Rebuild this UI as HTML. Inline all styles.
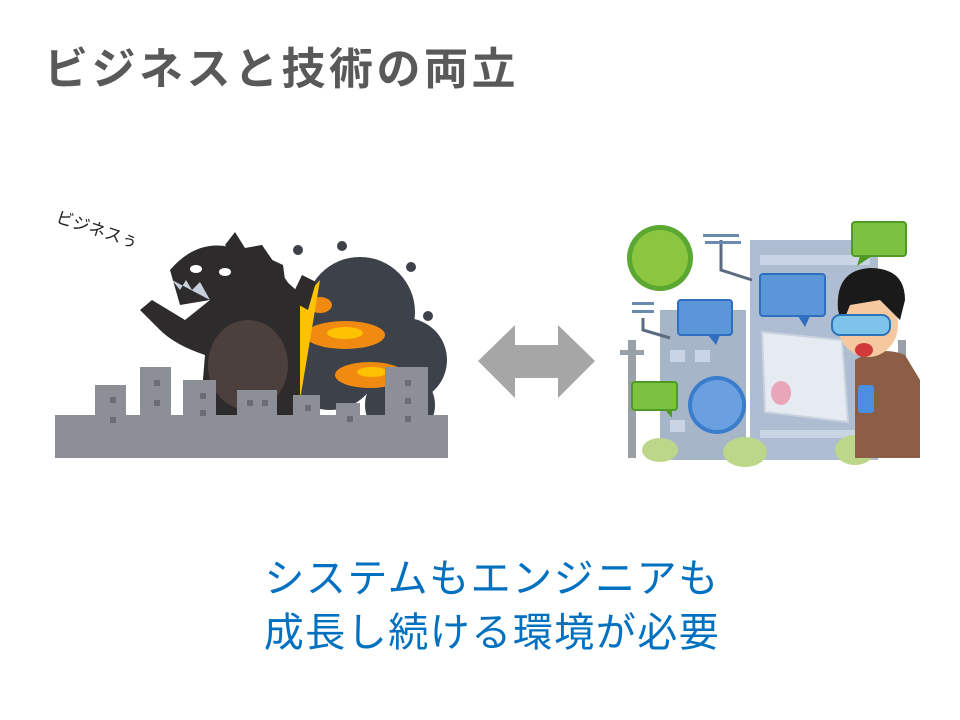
<!DOCTYPE html>
<html><head><meta charset="utf-8"><style>
body{margin:0;width:960px;height:720px;background:#fff;overflow:hidden;position:relative;font-family:"Liberation Sans","Noto Sans CJK JP",sans-serif}
.t{position:absolute;left:44px;top:33px;font-size:44px;font-weight:bold;color:#595959;letter-spacing:3.5px}
.b{position:absolute;left:12px;width:960px;text-align:center;font-size:40px;color:#0070c0;letter-spacing:1.5px}
</style></head><body>
<div class="t">ビジネスと技術の両立</div>
<svg width="960" height="720" style="position:absolute;left:0;top:0">
<text x="55" y="222" font-size="17" transform="rotate(18 55 222)" fill="#222" font-family="Noto Sans CJK JP,sans-serif">ビジネスぅ</text>
<g fill="#3d4149">
<circle cx="360" cy="312" r="55"/><circle cx="405" cy="360" r="42"/><circle cx="330" cy="360" r="50"/><circle cx="400" cy="405" r="35"/>
<circle cx="298" cy="250" r="5"/><circle cx="342" cy="246" r="5"/><circle cx="378" cy="278" r="7"/><circle cx="411" cy="267" r="5"/><circle cx="428" cy="316" r="5"/>
</g>
<g fill="#f08a10"><ellipse cx="345" cy="335" rx="40" ry="14"/><ellipse cx="370" cy="375" rx="35" ry="13"/><ellipse cx="320" cy="305" rx="12" ry="8"/><ellipse cx="410" cy="395" rx="18" ry="10"/></g>
<g fill="#ffc200"><ellipse cx="345" cy="333" rx="18" ry="6"/><ellipse cx="372" cy="372" rx="15" ry="5"/></g>
<path d="M290 345 L300 330 L298 305 L320 280 L300 400 Z" fill="#ffc200"/>
<path d="M170 270 Q200 235 240 250 L262 245 L300 300 L300 415 L200 415 L205 355 Q175 345 160 330 L140 310 L152 300 L185 320 L210 300 L180 305 Z" fill="#2d2b2b"/>
<path d="M225 245 L235 232 L245 248 L262 245 L268 258 L283 265 L285 280 L296 290 L292 310 L280 300Z" fill="#2d2b2b"/>
<path d="M290 300 L302 275 L316 282 L308 310 Z" fill="#2d2b2b"/>
<ellipse cx="248" cy="365" rx="40" ry="45" fill="#4b403d"/>
<ellipse cx="196" cy="269" rx="6" ry="4" fill="#fff"/><ellipse cx="225" cy="272" rx="6" ry="4" fill="#fff"/>
<path d="M172 280 L180 290 L186 280 L192 290 L200 282 L210 300 Z" fill="#c8d0dc"/>
<g fill="#8c8f95">
<rect x="55" y="415" width="393" height="43"/>
<rect x="95" y="385" width="31" height="40"/><rect x="140" y="367" width="31" height="50"/><rect x="183" y="380" width="33" height="40"/>
<rect x="237" y="390" width="40" height="30"/><rect x="293" y="395" width="27" height="25"/><rect x="336" y="403" width="24" height="20"/><rect x="385" y="367" width="43" height="55"/>
</g>
<g fill="#6a6d73"><rect x="110" y="397" width="6" height="6"/><rect x="110" y="417" width="6" height="6"/><rect x="154" y="380" width="6" height="6"/><rect x="154" y="400" width="6" height="6"/><rect x="200" y="393" width="6" height="6"/><rect x="200" y="410" width="6" height="6"/><rect x="247" y="400" width="6" height="6"/><rect x="262" y="400" width="6" height="6"/><rect x="305" y="405" width="6" height="6"/><rect x="347" y="416" width="6" height="6"/><rect x="405" y="380" width="6" height="6"/><rect x="405" y="398" width="6" height="6"/><rect x="405" y="416" width="6" height="6"/></g>
<path d="M478 361 L515 325 L515 345 L558 345 L558 325 L595 361 L558 398 L558 378 L515 378 L515 398 Z" fill="#a6a6a6"/>
<rect x="628" y="340" width="8" height="118" fill="#9aa0a8"/><rect x="620" y="350" width="24" height="5" fill="#9aa0a8"/>
<rect x="898" y="340" width="8" height="100" fill="#9aa0a8"/>
<rect x="750" y="240" width="128" height="220" fill="#aebdd2"/>
<rect x="660" y="310" width="86" height="150" fill="#a7b5c9"/>
<g fill="#c9d5e4"><rect x="670" y="350" width="15" height="12"/><rect x="695" y="350" width="15" height="12"/><rect x="670" y="420" width="15" height="12"/><rect x="760" y="255" width="110" height="10"/><rect x="760" y="430" width="110" height="8"/></g>
<ellipse cx="745" cy="452" rx="22" ry="15" fill="#bcd68a"/><ellipse cx="855" cy="450" rx="20" ry="15" fill="#bcd68a"/><ellipse cx="660" cy="450" rx="18" ry="12" fill="#bcd68a"/>
<circle cx="660" cy="258" r="33" fill="#5aa832"/><circle cx="660" cy="258" r="28" fill="#8cc640"/>
<circle cx="717" cy="405" r="29" fill="#3a7dcc"/><circle cx="717" cy="405" r="25" fill="#6a9fe0"/>
<path d="M721 240 L721 270 L752 280" stroke="#5b6b80" stroke-width="3" fill="none"/>
<path d="M643 318 L643 330 L670 338" stroke="#5b6b80" stroke-width="3" fill="none"/>
<g fill="#6a8ab0"><rect x="703" y="234" width="36" height="3"/><rect x="705" y="241" width="36" height="3"/><rect x="632" y="302" width="22" height="3"/><rect x="632" y="310" width="22" height="3"/></g>
<rect x="678" y="300" width="54" height="35" rx="3" fill="#5a96d8" stroke="#2f6fc0" stroke-width="2"/><path d="M708 335 L716 345 L720 335Z" fill="#2f6fc0"/>
<rect x="760" y="274" width="65" height="42" rx="3" fill="#5a96d8" stroke="#2f6fc0" stroke-width="2"/><path d="M798 316 L805 327 L810 316Z" fill="#2f6fc0"/>
<rect x="852" y="222" width="54" height="34" rx="3" fill="#7cc240" stroke="#4f9a25" stroke-width="2"/><path d="M860 256 L857 266 L872 256Z" fill="#4f9a25"/>
<rect x="632" y="382" width="45" height="28" rx="3" fill="#7cc240" stroke="#4f9a25" stroke-width="2"/><path d="M665 410 L672 418 L672 410Z" fill="#4f9a25"/>
<path d="M762 332 L842 340 L848 422 L765 412 Z" fill="#e6ebf2" stroke="#c9d2de" stroke-width="2"/>
<ellipse cx="781" cy="393" rx="10" ry="12" fill="#e8a6b8"/>
<path d="M855 360 Q880 345 905 355 L920 380 L920 458 L855 458 Z" fill="#8b5e45"/>
<ellipse cx="868" cy="325" rx="30" ry="32" fill="#f6c8a0"/>
<path d="M838 310 Q835 270 870 268 Q905 268 905 300 L900 320 L880 300 L850 305 L842 325Z" fill="#1a1a1a"/>
<rect x="832" y="315" width="58" height="20" rx="8" fill="#7ec4ea" stroke="#2d74b8" stroke-width="2"/>
<ellipse cx="864" cy="350" rx="9" ry="7" fill="#d23a3a"/>
<rect x="858" y="385" width="16" height="28" rx="3" fill="#4b8fe0"/>
</svg>
<div class="b" style="top:546px">システムもエンジニアも</div>
<div class="b" style="top:600px">成長し続ける環境が必要</div>
</body></html>
